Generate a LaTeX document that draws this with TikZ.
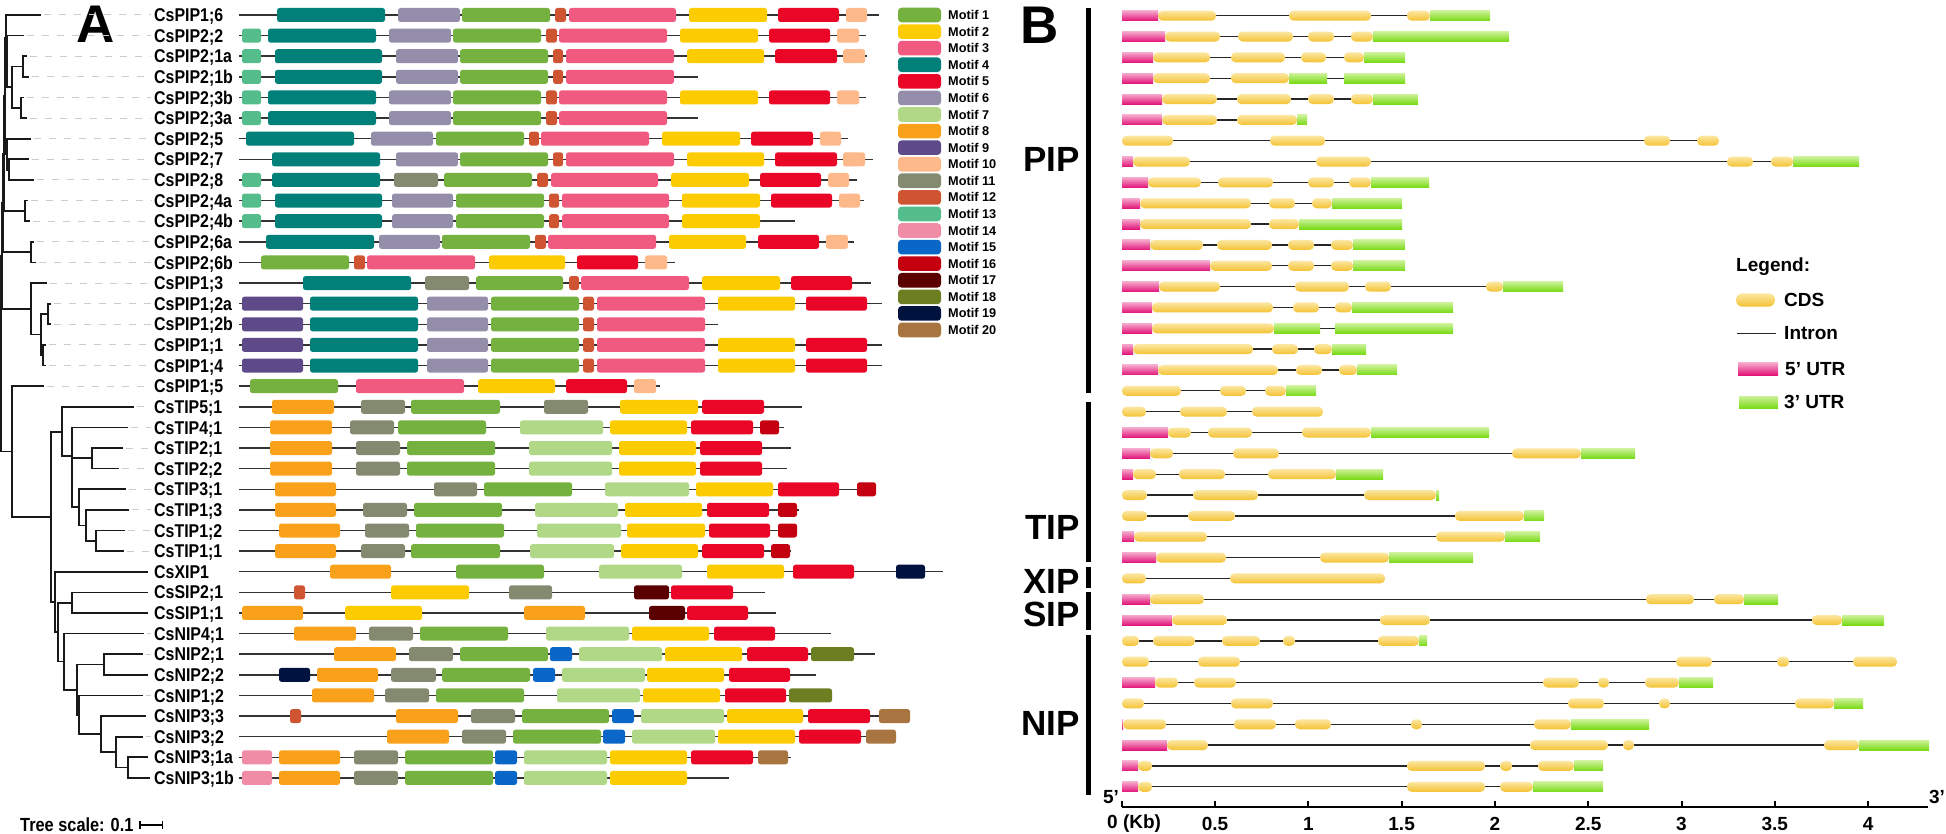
\documentclass[tikz,border=0pt]{standalone}
\usepackage{fontspec}
\setmainfont{Liberation Sans}
\newfontfamily\condf[FakeStretch=0.86]{Liberation Sans Bold}
\definecolor{m1}{HTML}{74B13F}
\definecolor{m2}{HTML}{FCCB00}
\definecolor{m3}{HTML}{F05A80}
\definecolor{m4}{HTML}{008078}
\definecolor{m5}{HTML}{EA0627}
\definecolor{m6}{HTML}{948EAB}
\definecolor{m7}{HTML}{B1D886}
\definecolor{m8}{HTML}{F9A11B}
\definecolor{m9}{HTML}{5E4A88}
\definecolor{m10}{HTML}{FDB98A}
\definecolor{m11}{HTML}{848A70}
\definecolor{m12}{HTML}{CF5432}
\definecolor{m13}{HTML}{55BD8C}
\definecolor{m14}{HTML}{F08CA6}
\definecolor{m15}{HTML}{0A67C8}
\definecolor{m16}{HTML}{C40010}
\definecolor{m17}{HTML}{5A0000}
\definecolor{m18}{HTML}{6B7F22}
\definecolor{m19}{HTML}{00133F}
\definecolor{m20}{HTML}{A87540}
\definecolor{cdstop}{HTML}{FCE7A2}
\definecolor{cdsbot}{HTML}{F4C233}
\definecolor{ufivetop}{HTML}{F5A8CC}
\definecolor{ufivebot}{HTML}{E3157A}
\definecolor{uthreetop}{HTML}{CDF29A}
\definecolor{uthreebot}{HTML}{78DA14}
\tikzset{
  tree/.style={draw=black!90, line width=1.7pt, line cap=rect},
  tipdash/.style={draw=black!20, line width=1pt, dash pattern=on 7pt off 8pt},
  gline/.style={draw=black!80, line width=1.5pt},
  motif/.style={rounded corners=2.5pt},
  genelabel/.style={anchor=base west, inner sep=0pt, font=\condf\fontsize{18.5}{20}\selectfont},
  motiflabel/.style={anchor=west, inner sep=0pt, font=\bfseries\fontsize{12.7}{14}\selectfont},
  intron/.style={draw=black!85, line width=1.3pt},
  cds/.style={rounded corners=4.5pt, top color=cdstop, bottom color=cdsbot},
  u5/.style={top color=ufivetop, bottom color=ufivebot},
  u3/.style={top color=uthreetop, bottom color=uthreebot},
  gbar/.style={draw=black, line width=5pt},
  grouplabel/.style={anchor=east, inner sep=0pt, font=\bfseries\fontsize{35}{40}\selectfont},
  panelletter/.style={inner sep=0pt, font=\bfseries\fontsize{53}{60}\selectfont},
  legtext/.style={anchor=west, inner sep=0pt, font=\bfseries\fontsize{19}{22}\selectfont},
  ticklabel/.style={inner sep=0pt, font=\bfseries\fontsize{19}{22}\selectfont},
  axisline/.style={draw=black, line width=2pt}
}
\newcommand\motifrow[3]{%
  \pgfmathsetmacro\yy{15+20.62*#1}%
  \draw[gline] (239,\yy) -- (#2,\yy);%
  \foreach \p/\q/\c in {#3}{\fill[motif,\c] (\p,\yy-7) rectangle (\q,\yy+7);}%
}
\newcommand\exonrow[4]{%
  \pgfmathsetmacro\yy{15.7+20.84*#1}%
  \draw[intron] (#2,\yy) -- (#3,\yy);%
  \foreach \k/\p/\q in {#4}{\path[\k] (\p,\yy-5) rectangle (\q,\yy+5);}%
}
\begin{document}
\begin{tikzpicture}[x=1pt,y=-1pt]
\useasboundingbox (0,0) rectangle (1946,834);
% ---------- Panel letters ----------
\node[panelletter] (panelA) at (95.5,24) {A};
\node[panelletter] (panelB) at (1040,25) {B};
% ---------- Tree ----------
\foreach \a/\b/\c/\d in {
 7.3/35.6/7.3/87.2, 11.7/66.6/11.7/107.8, 22.7/56.2/22.7/76.9, 20.7/97.5/20.7/118.1,
 6/15/6/61.4, 7/138.7/7/169.7, 9/159.3/9/180, 25/200.6/25/221.2, 30.7/241.8/30.7/262.4,
 47.7/303.7/47.7/324.3, 43.3/344.9/43.3/365.5, 40.7/314/40.7/355.2, 30.7/283.1/30.7/334.6,
 5/38.2/5/154.2, 4/96.2/4/210.9, 3/153.6/3/252.1, 2/202.9/2/308.8, 11.7/386.2/11.7/516.8, 1/255.9/1/451.5,
 6/15/40/15, 6/61.4/7.3/61.4, 7.3/35.6/22.7/35.6, 7.3/87.2/11.7/87.2, 11.7/66.6/22.7/66.6,
 11.7/107.8/20.7/107.8, 22.7/56.2/26/56.2, 22.7/76.9/28.3/76.9, 20.7/97.5/22.7/97.5, 20.7/118.1/26/118.1,
 5/38.2/6/38.2, 5/154.2/7/154.2, 7/138.7/30/138.7, 7/169.7/9/169.7, 9/159.3/28.3/159.3, 9/180/33.3/180,
 4/96.2/5/96.2, 4/210.9/25/210.9, 25/200.6/26.7/200.6, 25/221.2/29.3/221.2, 3/153.6/4/153.6,
 3/252.1/30.7/252.1, 30.7/241.8/33.3/241.8, 30.7/262.4/35/262.4, 2/202.9/3/202.9, 2/308.8/30.7/308.8,
 30.7/283.1/46/283.1, 30.7/334.6/40.7/334.6, 40.7/314/47.7/314, 40.7/355.2/43.3/355.2,
 47.7/303.7/50/303.7, 47.7/324.3/50/324.3, 43.3/344.9/45/344.9, 43.3/365.5/45/365.5,
 1/255.9/2/255.9, 1/451.5/11.7/451.5, 11.7/386.2/43.3/386.2, 11.7/516.8/50.7/516.8,
 50.7/431.7/50.7/601.9, 62/406.8/62/456, 72/427.4/72/507.3, 91.7/448/91.7/468.6, 79/489.3/79/525.4,
 86/509.9/86/540.8, 96/530.5/96/551.1, 55/571.7/55/632.1, 58.3/602.7/58.3/661.6, 71.7/592.4/71.7/613,
 64.3/633.6/64.3/689.7, 76.7/664.5/76.7/714.8, 104/654.2/104/674.8, 78.7/695.5/78.7/734.1,
 101/716.1/101/752.2, 115.7/736.7/115.7/767.6, 128.3/757.3/128.3/777.9,
 50.7/431.7/62/431.7, 50.7/601.9/55/601.9, 62/406.8/133/406.8, 62/456/72/456, 72/427.4/127/427.4,
 72/458.3/91.7/458.3, 72/507.3/79/507.3, 91.7/448/122/448, 91.7/468.6/118/468.6, 79/489.3/125/489.3,
 79/525.4/86/525.4, 86/509.9/128/509.9, 86/540.8/96/540.8, 96/530.5/124/530.5, 96/551.1/123/551.1,
 55/571.7/146.7/571.7, 55/632.1/58.3/632.1, 58.3/602.7/71.7/602.7, 58.3/661.6/64.3/661.6,
 71.7/592.4/146.7/592.4, 71.7/613/146.7/613, 64.3/633.6/142.7/633.6, 64.3/689.7/76.7/689.7,
 76.7/664.5/104/664.5, 76.7/714.8/78.7/714.8, 104/654.2/141.7/654.2, 104/674.8/146.7/674.8,
 78.7/695.5/141.7/695.5, 78.7/734.1/101/734.1, 101/716.1/145/716.1, 101/752.2/115.7/752.2,
 115.7/736.7/141.7/736.7, 115.7/767.6/128.3/767.6, 128.3/757.3/146.7/757.3, 128.3/777.9/149.3/777.9}
 {\draw[tree] (\a,\b) -- (\c,\d);}
% dashed leader lines
\foreach \y/\t in {15/40, 35.6/22.7, 56.2/26, 76.9/28.3, 97.5/22.7, 118.1/26, 138.7/30, 159.3/28.3,
 180/33.3, 200.6/26.7, 221.2/29.3, 241.8/33.3, 262.4/35, 283.1/46, 303.7/50, 324.3/50, 344.9/45,
 365.5/45, 386.2/43.3, 406.8/133, 427.4/127, 448/122, 468.6/118, 489.3/125, 509.9/128, 530.5/124,
 551.1/123, 633.6/142.7, 654.2/141.7, 695.5/141.7, 736.7/141.7}
 {\draw[tipdash] (\t+4,\y) -- (151,\y);}
% tree scale
\node[anchor=west, inner sep=0pt, font=\condf\fontsize{19}{22}\selectfont] (treescale) at (20,825) {Tree scale: 0.1};
\coordinate (sbl) at (140,825);
\coordinate (sbr) at (162.7,825);
\draw[line width=1.5pt] (sbl) -- (sbr);
\draw[line width=1.5pt] ([yshift=-4pt]sbl) -- ([yshift=4pt]sbl);
\draw[line width=1.5pt] ([yshift=-4pt]sbr) -- ([yshift=4pt]sbr);
% gene labels
\foreach \i/\n in {0/CsPIP1;6, 1/CsPIP2;2, 2/CsPIP2;1a, 3/CsPIP2;1b, 4/CsPIP2;3b, 5/CsPIP2;3a,
 6/CsPIP2;5, 7/CsPIP2;7, 8/CsPIP2;8, 9/CsPIP2;4a, 10/CsPIP2;4b, 11/CsPIP2;6a, 12/CsPIP2;6b,
 13/CsPIP1;3, 14/CsPIP1;2a, 15/CsPIP1;2b, 16/CsPIP1;1, 17/CsPIP1;4, 18/CsPIP1;5, 19/CsTIP5;1,
 20/CsTIP4;1, 21/CsTIP2;1, 22/CsTIP2;2, 23/CsTIP3;1, 24/CsTIP1;3, 25/CsTIP1;2, 26/CsTIP1;1,
 27/CsXIP1, 28/CsSIP2;1, 29/CsSIP1;1, 30/CsNIP4;1, 31/CsNIP2;1, 32/CsNIP2;2, 33/CsNIP1;2,
 34/CsNIP3;3, 35/CsNIP3;2, 36/CsNIP3;1a, 37/CsNIP3;1b}
 {\node[genelabel] (g\i) at (154,{15+20.62*\i+6.6}) {\n};}
% ---------- Motif rows ----------
\motifrow{0}{879}{277/385/m4, 398/460/m6, 462/550/m1, 555/566/m12, 569/676/m3, 689/767/m2, 778/839/m5, 846/867/m10}
\motifrow{1}{866}{242/261/m13, 268/376/m4, 389/451/m6, 453/541/m1, 546/557/m12, 559/667/m3, 680/758/m2, 769/830/m5, 837/859/m10}
\motifrow{2}{867}{242/261/m13, 275/382/m4, 396/458/m6, 460/548/m1, 553/563/m12, 566/674/m3, 687/764/m2, 775/837/m5, 843/865/m10}
\motifrow{3}{698}{242/261/m13, 275/382/m4, 396/458/m6, 460/548/m1, 553/563/m12, 566/674/m3}
\motifrow{4}{866}{242/261/m13, 268/376/m4, 389/451/m6, 453/541/m1, 546/557/m12, 559/667/m3, 680/758/m2, 769/830/m5, 837/859/m10}
\motifrow{5}{698}{242/261/m13, 268/376/m4, 389/451/m6, 453/541/m1, 546/557/m12, 559/667/m3}
\motifrow{6}{848}{246/354/m4, 371/433/m6, 436/524/m1, 529/539/m12, 541/649/m3, 662/740/m2, 751/813/m5, 820/841/m10}
\motifrow{7}{873}{272/380/m4, 396/458/m6, 460/548/m1, 553/563/m12, 566/674/m3, 687/764/m2, 775/837/m5, 843/865/m10}
\motifrow{8}{857}{242/261/m13, 272/380/m4, 394/438/m11, 444/532/m1, 537/548/m12, 551/658/m3, 671/749/m2, 760/821/m5, 828/849/m10}
\motifrow{9}{864}{242/261/m13, 275/382/m4, 392/453/m6, 456/544/m1, 549/559/m12, 562/669/m3, 682/760/m2, 771/832/m5, 839/860/m10}
\motifrow{10}{795}{242/261/m13, 275/382/m4, 392/453/m6, 456/544/m1, 549/559/m12, 562/669/m3, 682/760/m2}
\motifrow{11}{854}{266/374/m4, 379/440/m6, 442/530/m1, 535/546/m12, 548/656/m3, 669/746/m2, 758/819/m5, 826/848/m10}
\motifrow{12}{675}{261/349/m1, 354/365/m12, 367/475/m3, 489/565/m2, 577/638/m5, 645/667/m10}
\motifrow{13}{871}{303/411/m4, 425/469/m11, 476/563/m1, 569/579/m12, 581/689/m3, 702/780/m2, 791/852/m5}
\motifrow{14}{882}{242/303/m9, 310/418/m4, 427/488/m6, 491/579/m1, 583/594/m12, 597/705/m3, 718/795/m2, 806/867/m5}
\motifrow{15}{718}{242/303/m9, 310/418/m4, 427/488/m6, 491/579/m1, 583/594/m12, 597/705/m3}
\motifrow{16}{882}{242/303/m9, 310/418/m4, 427/488/m6, 491/579/m1, 583/594/m12, 597/705/m3, 718/795/m2, 806/867/m5}
\motifrow{17}{882}{242/303/m9, 310/418/m4, 427/488/m6, 491/579/m1, 583/594/m12, 597/705/m3, 718/795/m2, 806/867/m5}
\motifrow{18}{660}{250/338/m1, 356/464/m3, 478/555/m2, 566/627/m5, 634/656/m10}
\motifrow{19}{802}{272/334/m8, 361/405/m11, 411/500/m1, 544/588/m11, 620/698/m2, 702/764/m5}
\motifrow{20}{784}{270/332/m8, 350/394/m11, 398/486/m1, 520/603/m7, 610/687/m2, 691/753/m5, 760/779/m16}
\motifrow{21}{791}{270/332/m8, 356/400/m11, 407/495/m1, 529/612/m7, 619/696/m2, 700/762/m5}
\motifrow{22}{787}{270/332/m8, 356/400/m11, 407/495/m1, 529/612/m7, 619/696/m2, 700/762/m5}
\motifrow{23}{876}{275/336/m8, 434/477/m11, 484/572/m1, 605/689/m7, 696/773/m2, 778/839/m5, 857/876/m16}
\motifrow{24}{799}{275/336/m8, 363/407/m11, 414/502/m1, 535/618/m7, 625/702/m2, 707/769/m5, 778/797/m16}
\motifrow{25}{797}{279/340/m8, 365/409/m11, 416/504/m1, 537/621/m7, 627/705/m2, 709/770/m5, 778/797/m16}
\motifrow{26}{791}{275/336/m8, 361/405/m11, 411/500/m1, 530/614/m7, 621/698/m2, 702/764/m5, 771/790/m16}
\motifrow{27}{943}{330/391/m8, 456/544/m1, 599/682/m7, 707/784/m2, 793/854/m5, 896/925/m19}
\motifrow{28}{765}{294/305/m12, 391/469/m2, 509/552/m11, 634/669/m17, 671/733/m5}
\motifrow{29}{776}{242/303/m8, 345/422/m2, 524/585/m8, 649/685/m17, 687/748/m5}
\motifrow{30}{831}{294/356/m8, 369/413/m11, 420/508/m1, 546/629/m7, 632/709/m2, 714/775/m5}
\motifrow{31}{875}{334/396/m8, 409/453/m11, 460/548/m1, 550/572/m15, 579/662/m7, 665/742/m2, 747/808/m5, 811/854/m18}
\motifrow{32}{816}{279/310/m19, 317/378/m8, 391/436/m11, 442/530/m1, 533/555/m15, 562/645/m7, 647/724/m2, 729/790/m5}
\motifrow{33}{832}{312/374/m8, 385/429/m11, 436/524/m1, 557/640/m7, 643/720/m2, 725/786/m5, 789/832/m18}
\motifrow{34}{910}{290/301/m12, 396/458/m8, 471/515/m11, 522/609/m1, 612/634/m15, 641/724/m7, 727/803/m2, 808/870/m5, 879/910/m20}
\motifrow{35}{896}{387/449/m8, 462/506/m11, 513/601/m1, 603/625/m15, 632/715/m7, 718/795/m2, 799/861/m5, 866/896/m20}
\motifrow{36}{791}{242/272/m14, 279/340/m8, 354/398/m11, 405/493/m1, 495/517/m15, 524/607/m7, 610/687/m2, 691/753/m5, 758/788/m20}
\motifrow{37}{729}{242/272/m14, 279/340/m8, 354/398/m11, 405/493/m1, 495/517/m15, 524/607/m7, 610/687/m2}
% ---------- Motif legend ----------
\foreach \k in {1,...,20}{
  \pgfmathsetmacro\ly{15+16.58*(\k-1)}
  \fill[rounded corners=3.5pt, m\k] (898,\ly-7.3) rectangle (941,\ly+7.3);
  \node[motiflabel] (ml\k) at (948,\ly) {Motif \k};
}
% ---------- Panel B: group bars and labels ----------
\draw[gbar] (1088,8) -- (1088,393);
\draw[gbar] (1088,402) -- (1088,562);
\draw[gbar] (1088,567) -- (1088,588);
\draw[gbar] (1088,592) -- (1088,630);
\draw[gbar] (1088,635) -- (1088,795);
\node[grouplabel] (gPIP) at (1080,159) {PIP};
\node[grouplabel] (gTIP) at (1080,527) {TIP};
\node[grouplabel] (gXIP) at (1080,581) {XIP};
\node[grouplabel] (gSIP) at (1080,614) {SIP};
\node[grouplabel] (gNIP) at (1080,723) {NIP};
% ---------- Panel B: gene structures ----------
\exonrow{0}{1122}{1490}{u5/1122/1158, cds/1158/1216, cds/1289/1371, cds/1407/1430, u3/1430/1490}
\exonrow{1}{1122}{1509}{u5/1122/1165, cds/1165/1220, cds/1238/1293, cds/1308/1334, cds/1351/1373, u3/1373/1509}
\exonrow{2}{1122}{1405}{u5/1122/1153, cds/1153/1210, cds/1231/1285, cds/1301/1326, cds/1344/1364, u3/1364/1405}
\exonrow{3}{1122}{1405}{u5/1122/1153, cds/1153/1210, cds/1231/1289, u3/1289/1327, u3/1344/1405}
\exonrow{4}{1122}{1418}{u5/1122/1162, cds/1162/1217, cds/1237/1291, cds/1308/1334, cds/1351/1373, u3/1373/1418}
\exonrow{5}{1122}{1307}{u5/1122/1162, cds/1162/1217, cds/1237/1297, u3/1297/1307}
\exonrow{6}{1122}{1719}{cds/1122/1173, cds/1270/1325, cds/1644/1670, cds/1697/1719}
\exonrow{7}{1122}{1859}{u5/1122/1133, cds/1133/1190, cds/1316/1371, cds/1727/1753, cds/1771/1793, u3/1793/1859}
\exonrow{8}{1122}{1429}{u5/1122/1148, cds/1148/1201, cds/1218/1273, cds/1308/1334, cds/1349/1371, u3/1371/1429}
\exonrow{9}{1122}{1402}{u5/1122/1140, cds/1140/1251, cds/1269/1295, cds/1312/1332, u3/1332/1402}
\exonrow{10}{1122}{1402}{u5/1122/1140, cds/1140/1251, cds/1269/1299, u3/1299/1402}
\exonrow{11}{1122}{1405}{u5/1122/1150, cds/1150/1203, cds/1217/1272, cds/1288/1314, cds/1331/1353, u3/1353/1405}
\exonrow{12}{1122}{1405}{u5/1122/1210, cds/1210/1272, cds/1288/1314, cds/1331/1353, u3/1353/1405}
\exonrow{13}{1122}{1563}{u5/1122/1159, cds/1159/1220, cds/1295/1349, cds/1365/1391, cds/1486/1503, u3/1503/1563}
\exonrow{14}{1122}{1453}{u5/1122/1152, cds/1152/1273, cds/1293/1319, cds/1335/1352, u3/1352/1453}
\exonrow{15}{1122}{1453}{u5/1122/1152, cds/1152/1274, u3/1274/1320, u3/1335/1453}
\exonrow{16}{1122}{1366}{u5/1122/1133, cds/1133/1253, cds/1272/1298, cds/1314/1332, u3/1332/1366}
\exonrow{17}{1122}{1397}{u5/1122/1158, cds/1158/1278, cds/1296/1322, cds/1339/1357, u3/1357/1397}
\exonrow{18}{1122}{1316}{cds/1122/1181, cds/1220/1246, cds/1265/1286, u3/1286/1316}
\exonrow{19}{1122}{1323}{cds/1122/1146, cds/1180/1227, cds/1252/1323}
\exonrow{20}{1122}{1489}{u5/1122/1168, cds/1168/1191, cds/1208/1252, cds/1302/1371, u3/1371/1489}
\exonrow{21}{1122}{1635}{u5/1122/1150, cds/1150/1173, cds/1233/1279, cds/1512/1581, u3/1581/1635}
\exonrow{22}{1122}{1383}{u5/1122/1133, cds/1133/1156, cds/1179/1225, cds/1268/1336, u3/1336/1383}
\exonrow{23}{1122}{1439}{cds/1122/1147, cds/1193/1258, cds/1364/1436, u3/1436/1439}
\exonrow{24}{1122}{1544}{cds/1122/1147, cds/1188/1235, cds/1455/1524, u3/1524/1544}
\exonrow{25}{1122}{1540}{u5/1122/1134, cds/1134/1207, cds/1436/1505, u3/1505/1540}
\exonrow{26}{1122}{1473}{u5/1122/1156, cds/1156/1226, cds/1320/1389, u3/1389/1473}
\exonrow{27}{1122}{1385}{cds/1122/1146, cds/1230/1385}
\exonrow{28}{1122}{1778}{u5/1122/1150, cds/1150/1204, cds/1646/1694, cds/1714/1744, u3/1744/1778}
\exonrow{29}{1122}{1884}{u5/1122/1172, cds/1172/1227, cds/1380/1430, cds/1812/1842, u3/1842/1884}
\exonrow{30}{1122}{1427}{cds/1122/1139, cds/1153/1195, cds/1222/1260, cds/1283/1295, cds/1378/1419, u3/1419/1427}
\exonrow{31}{1122}{1897}{cds/1122/1149, cds/1198/1240, cds/1676/1712, cds/1777/1789, cds/1853/1897}
\exonrow{32}{1122}{1713}{u5/1122/1155, cds/1155/1178, cds/1194/1236, cds/1543/1579, cds/1598/1609, cds/1645/1679, u3/1679/1713}
\exonrow{33}{1122}{1863}{cds/1122/1144, cds/1231/1273, cds/1568/1604, cds/1659/1670, cds/1795/1834, u3/1834/1863}
\exonrow{34}{1122}{1649}{u5/1122/1123, cds/1123/1166, cds/1234/1276, cds/1295/1331, cds/1411/1422, cds/1534/1571, u3/1571/1649}
\exonrow{35}{1122}{1929}{u5/1122/1167, cds/1167/1208, cds/1530/1608, cds/1623/1634, cds/1824/1859, u3/1859/1929}
\exonrow{36}{1122}{1603}{u5/1122/1138, cds/1138/1152, cds/1407/1485, cds/1500/1512, cds/1538/1574, u3/1574/1603}
\exonrow{37}{1122}{1603}{u5/1122/1138, cds/1138/1152, cds/1407/1485, cds/1500/1533, u3/1533/1603}
% ---------- Legend (panel B) ----------
\node[legtext] (legtitle) at (1736,266.7) {Legend:};
\path[cds, rounded corners=6.5pt] (1736,293.3) rectangle (1775,306.7);
\node[legtext] (legcds) at (1784,300) {CDS};
\draw[intron] (1736.7,333.3) -- (1776,333.3);
\node[legtext] (legintron) at (1784,333.3) {Intron};
\path[u5] (1738,362.7) rectangle (1778,375);
\node[legtext] (legfive) at (1785,368.8) {5’ UTR};
\path[u3] (1739,396) rectangle (1778,408.3);
\node[legtext] (legthree) at (1784,402.2) {3’ UTR};
% ---------- Axis ----------
\coordinate (ax0) at (1121.7,806.7);
\coordinate (ax1) at (1928.3,806.7);
\draw[axisline] (ax0) -- (ax1);
\foreach \v in {0,0.5,1,1.5,2,2.5,3,3.5,4}{
  \draw[line width=2pt] ({1121.7+186.6*\v},806.7) -- ({1121.7+186.6*\v},800.5);
}
\node[ticklabel, anchor=west] (t0) at (1107,824) {0 (Kb)};
\foreach \v/\s in {0.5/0.5, 1/1, 1.5/1.5, 2/2, 2.5/2.5, 3/3, 3.5/3.5, 4/4}{
  \node[ticklabel] (t\s) at ({1121.7+186.6*\v},824) {\s};
}
\node[ticklabel] (five) at (1111,797) {5'};
\node[ticklabel] (three) at (1937,797) {3'};
\end{tikzpicture}
\end{document}
